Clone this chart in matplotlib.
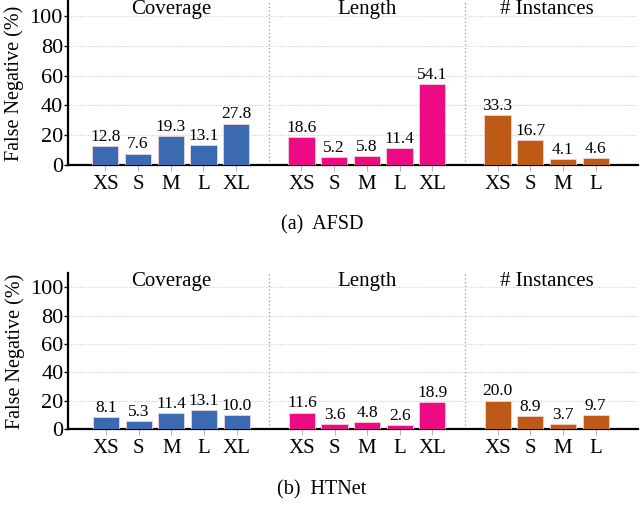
import matplotlib
matplotlib.use("Agg")
import matplotlib.pyplot as plt

plt.rcParams['font.family'] = ['Liberation Serif', 'DejaVu Serif']
plt.rcParams['mathtext.fontset'] = 'stix'

groups = ["Coverage", "Length", "# Instances"]
group_cats = [["XS", "S", "M", "L", "XL"],
              ["XS", "S", "M", "L", "XL"],
              ["XS", "S", "M", "L"]]
colors = ["#3A6BB0", "#EE0A85", "#BE5A18"]

afsd_coverage = [12.8, 7.6, 19.3, 13.1, 27.8]
afsd_length = [18.6, 5.2, 5.8, 11.4, 54.1]
afsd_instances = [33.3, 16.7, 4.1, 4.6]

htnet_coverage = [8.1, 5.3, 11.4, 13.1, 10.0]
htnet_length = [11.6, 3.6, 4.8, 2.6, 18.9]
htnet_instances = [20.0, 8.9, 3.7, 9.7]

panels = [("(a)  AFSD", [afsd_coverage, afsd_length, afsd_instances]),
          ("(b)  HTNet", [htnet_coverage, htnet_length, htnet_instances])]

fig = plt.figure(figsize=(6.4, 5.27), dpi=100)
axes_rects = [[0.106, 0.687, 0.891, 0.311], [0.107, 0.186, 0.890, 0.296]]
caption_y = [0.573, 0.07]

for (caption, data), rect, cy in zip(panels, axes_rects, caption_y):
    ax = fig.add_axes(rect)
    pos = 0
    ticks, labels, seps = [], [], []
    for gi, (gname, cats, vals) in enumerate(zip(groups, group_cats, data)):
        xs = list(range(pos, pos + len(cats)))
        ax.bar(xs, vals, width=0.8, color=colors[gi], edgecolor="#f4d0d8",
               linewidth=0.6, zorder=3)
        for x, v in zip(xs, vals):
            ax.text(x, v + 0.8, f"{v:.1f}", ha="center", va="bottom",
                    fontsize=12.5, zorder=4)
        ax.text((xs[0] + xs[-1]) / 2, 104, gname, ha="center", va="center",
                fontsize=15)
        ticks += xs
        labels += cats
        pos += len(cats)
        if gi < len(groups) - 1:
            seps.append(pos)
            pos += 1
    for s in seps:
        ax.axvline(s, color="#999999", linestyle=(0, (1, 2)), linewidth=0.9,
                   zorder=1)
    ax.set_xlim(-1.15, 16.3)
    ax.set_ylim(0, 110)
    ax.set_yticks([0, 20, 40, 60, 80, 100])
    ax.set_xticks(ticks)
    ax.set_xticklabels(labels, fontsize=15)
    ax.tick_params(axis="y", labelsize=16, length=3, width=1, pad=0.5)
    ax.tick_params(axis="x", length=4, width=0.6, color="#aaaaaa", pad=3)
    ax.yaxis.grid(True, color="#cccccc", linestyle=(0, (1, 1.5)),
                  linewidth=0.8, zorder=0)
    ax.set_axisbelow(True)
    for side in ["top", "right"]:
        ax.spines[side].set_visible(False)
    ax.spines["left"].set_linewidth(1.6)
    ax.spines["bottom"].set_linewidth(1.6)
    ax.set_ylabel("False Negative (%)", fontsize=14.5, labelpad=4)
    fig.text(0.503, cy, caption, ha="center", va="center", fontsize=14.5)

fig.savefig("out.png", dpi=100)
